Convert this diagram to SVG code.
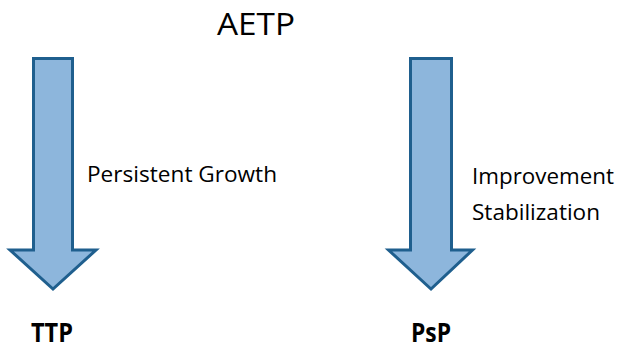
<svg xmlns="http://www.w3.org/2000/svg" width="620" height="349" viewBox="0 0 620 349">
  <style>
    .arrow { fill: #8DB6DC; stroke: #1F5F8E; stroke-width: 3; stroke-linejoin: miter; }
    .label { font-family: "Open Sans", "Liberation Sans", sans-serif; fill: #000; }
    .title { font-size: 31px; }
    .note { font-size: 21px; }
    .term { font-size: 26px; font-weight: bold; }
  </style>
  <rect width="620" height="349" fill="#fff"/>
  <g id="title">
    <text class="label title" x="217" y="35" textLength="78" lengthAdjust="spacingAndGlyphs">AETP</text>
  </g>
  <g id="connectors">
    <polygon class="arrow" points="33.5,58.5 72.5,58.5 72.5,250 96,250 53,289 10,250 33.5,250"/>
    <polygon class="arrow" points="410.5,58.5 451.5,58.5 451.5,250 472.5,250 431,289 388.5,250 410.5,250"/>
    <text class="label note" x="87" y="182" textLength="190" lengthAdjust="spacingAndGlyphs">Persistent Growth</text>
    <text class="label note" x="472" y="184" textLength="142" lengthAdjust="spacingAndGlyphs">Improvement</text>
    <text class="label note" x="472" y="220" textLength="128" lengthAdjust="spacingAndGlyphs">Stabilization</text>
  </g>
  <g id="node-ttp">
    <text class="label term" x="31" y="342" textLength="42" lengthAdjust="spacingAndGlyphs">TTP</text>
  </g>
  <g id="node-psp">
    <text class="label term" x="411" y="342" textLength="40" lengthAdjust="spacingAndGlyphs">PsP</text>
  </g>
</svg>
